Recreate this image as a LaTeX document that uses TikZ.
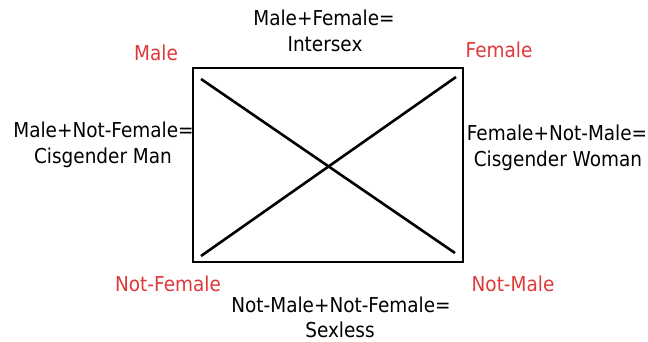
\documentclass[tikz,border=0pt]{standalone}
\usepackage{fontspec}
\setmainfont[FakeStretch=0.9]{DejaVu Sans}
\definecolor{lblred}{RGB}{224,56,56}
\begin{document}
\begin{tikzpicture}[x=1pt,y=-1pt,
  txt/.style={anchor=base,inner sep=0pt,font=\fontsize{20.5}{24}\selectfont},
  corner/.style={txt,text=lblred},
  boxline/.style={draw=black,line width=2pt},
  diag/.style={draw=black,line width=2.6pt}]
\useasboundingbox (0,0) rectangle (648,341);
\node[boxline,minimum width=270pt,minimum height=194pt,inner sep=0pt] (box) at (328,165) {};
\coordinate (tl) at (201,79);
\coordinate (br) at (455,253);
\coordinate (bl) at (201,256);
\coordinate (tr) at (456,77);
\draw[diag] (tl) -- (br);
\draw[diag] (bl) -- (tr);
\node[txt] (top1) at (324,25) {Male+Female=};
\node[txt] (top2) at (325,51) {Intersex};
\node[corner] (male) at (156,60) {Male};
\node[corner] (female) at (499,57) {Female};
\node[txt] (left1) at (103.5,137) {Male+Not-Female=};
\node[txt] (left2) at (103,163) {Cisgender Man};
\node[txt] (right1) at (557,140) {Female+Not-Male=};
\node[txt] (right2) at (558,166) {Cisgender Woman};
\node[corner] (notfemale) at (168,291) {Not-Female};
\node[corner] (notmale) at (513,291) {Not-Male};
\node[txt] (bot1) at (341,312) {Not-Male+Not-Female=};
\node[txt] (bot2) at (340,337) {Sexless};
\end{tikzpicture}
\end{document}
